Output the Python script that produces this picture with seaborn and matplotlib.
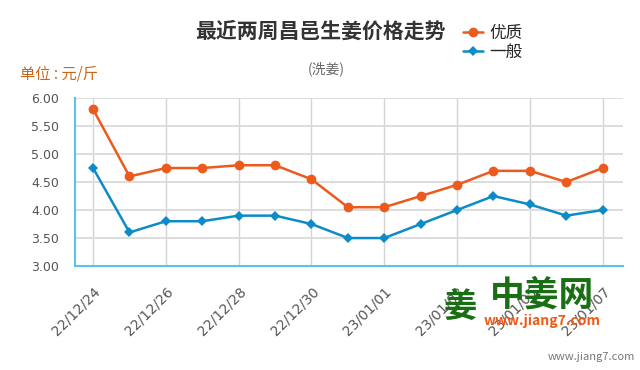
import numpy as np
import pandas as pd
import seaborn as sns
import matplotlib.pyplot as plt

# chart data
dates = ['22/12/24', '22/12/25', '22/12/26', '22/12/27', '22/12/28', '22/12/29', '22/12/30',
         '22/12/31', '23/01/01', '23/01/02', '23/01/03', '23/01/04', '23/01/05', '23/01/06', '23/01/07']
premium = [5.80, 4.60, 4.75, 4.75, 4.80, 4.80, 4.55, 4.05, 4.05, 4.25, 4.45, 4.70, 4.70, 4.50, 4.75]
normal = [4.75, 3.60, 3.80, 3.80, 3.90, 3.90, 3.75, 3.50, 3.50, 3.75, 4.00, 4.25, 4.10, 3.90, 4.00]
series_names = ['优质', '一般']
y_ticks = [3.0, 3.5, 4.0, 4.5, 5.0, 5.5, 6.0]

sns.set_style('white')
plt.rcParams['font.family'] = ['Noto Sans CJK SC', 'DejaVu Sans']

df = pd.DataFrame({'idx': np.arange(len(dates)), '优质': premium, '一般': normal})
long = df.melt(id_vars='idx', var_name='等级', value_name='价格')

orange = '#ec5a1e'
blue = '#0b8cc8'
axis_blue = '#5bc3e6'

fig = plt.figure(figsize=(6.4, 3.7), dpi=100)
ax = fig.add_axes([0.117, 0.281, 0.856, 0.454])

sns.lineplot(data=long, x='idx', y='价格', hue='等级', style='等级',
             hue_order=series_names, style_order=series_names,
             palette={'优质': orange, '一般': blue},
             markers={'优质': 'o', '一般': 'D'}, dashes=False,
             markersize=7, markeredgewidth=0, linewidth=1.8, ax=ax, zorder=3)
# diamonds are a little smaller than the dots
for ln in ax.get_lines():
    if ln.get_marker() == 'D':
        ln.set_markersize(5.5)

ax.set_xlim(-0.5, 14.55)
ax.set_ylim(3.0, 6.0)
ax.set_yticks(y_ticks)
ax.set_yticklabels([f'{v:.2f}' for v in y_ticks], family='DejaVu Sans', fontsize=9)
xt = list(range(0, len(dates), 2))
ax.set_xticks(xt)
ax.set_xticklabels([dates[i] for i in xt], rotation=45, ha='right', rotation_mode='anchor',
                   family='DejaVu Sans', fontsize=10)
ax.set_xlabel('')
ax.set_ylabel('')

ax.grid(True, axis='y', color='#dddddd', linewidth=1.4)
ax.grid(True, axis='x', color='#d4d4d4', linewidth=1.0)
for s in ['top', 'right']:
    ax.spines[s].set_visible(False)
for s in ['left', 'bottom']:
    ax.spines[s].set_color(axis_blue)
    ax.spines[s].set_linewidth(1.5)
ax.tick_params(axis='both', colors=axis_blue, length=8, width=1.2, labelcolor='#555555')
ax.tick_params(axis='x', pad=5)

ax.legend_.remove()
handles, labels = ax.get_legend_handles_labels()
fig.legend(handles, labels, loc='upper left', bbox_to_anchor=(0.71, 0.955),
           frameon=False, fontsize=12, handlelength=1.2, handletextpad=0.4,
           labelspacing=0.1, borderpad=0)

fig.text(0.5, 0.915, '最近两周昌邑生姜价格走势', ha='center', va='center',
         fontsize=15, fontweight='bold', color='#333333')
fig.text(0.51, 0.815, '(洗姜)', ha='center', va='center', fontsize=10, color='#666666')
fig.text(0.031, 0.8, '单位 : 元/斤', ha='left', va='center', fontsize=11, color='#c8651b')

# watermark
fig.text(0.72, 0.17, '姜', ha='center', va='center', fontsize=24, fontweight='bold', color='#1a6e14')
fig.text(0.847, 0.202, '中姜网', ha='center', va='center', fontsize=25, fontweight='bold', color='#1a6e14')
fig.text(0.847, 0.132, 'www.jiang7.com', ha='center', va='center', fontsize=10,
         fontweight='bold', style='italic', color='#ef5a16')
fig.text(0.992, 0.035, 'www.jiang7.com', ha='right', va='center', fontsize=8, color='#777777')

fig.savefig('out.png', dpi=100)
